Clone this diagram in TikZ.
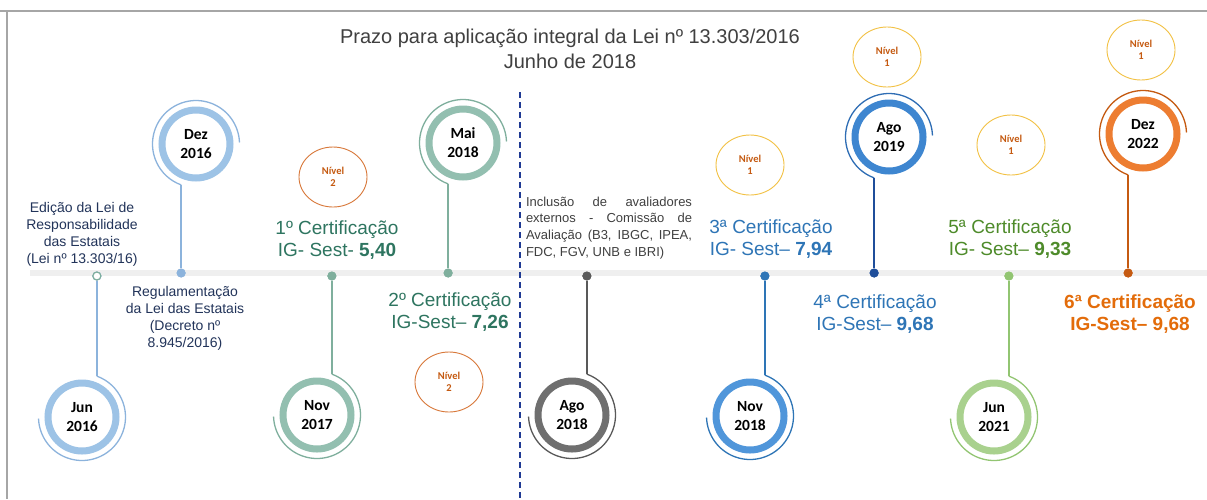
\documentclass[tikz,border=0pt]{standalone}
\usepackage{fontspec}
\setmainfont{Liberation Sans}
\newfontfamily\calfont{Carlito}
\usetikzlibrary{shapes.geometric}
\definecolor{lblue}{HTML}{9DC3E6}\definecolor{lblueL}{HTML}{8CB3DC}
\definecolor{sage}{HTML}{93BFB0}\definecolor{sageL}{HTML}{7FAF9D}
\definecolor{gring}{HTML}{6F6F6F}\definecolor{gline}{HTML}{595959}
\definecolor{mblue}{HTML}{5096DA}\definecolor{mblueL}{HTML}{2E75B6}
\definecolor{dblue}{HTML}{3E86D0}\definecolor{dblueL}{HTML}{2E6DB4}\definecolor{navyL}{HTML}{1F4E9A}
\definecolor{lgreen}{HTML}{A9D18E}\definecolor{lgreenL}{HTML}{92C572}
\definecolor{orng}{HTML}{ED7D31}\definecolor{orngL}{HTML}{C55A11}
\definecolor{tealT}{HTML}{2E7560}\definecolor{blueT}{HTML}{2E75B6}
\definecolor{greenT}{HTML}{4E8B2A}\definecolor{orangeT}{HTML}{E36C0A}
\definecolor{navyT}{HTML}{22345A}\definecolor{grayT}{HTML}{404040}
\definecolor{nivel2}{HTML}{D8783A}\definecolor{nivel1}{HTML}{F2C144}\definecolor{nivelT}{HTML}{C55A11}
\definecolor{barc}{HTML}{EFEFEF}\definecolor{dashc}{HTML}{1F3A93}\definecolor{framec}{HTML}{A6A6A6}
\tikzset{
  ring/.style={circle, line width=7pt, minimum size=68pt, inner sep=0pt, align=center,
    font=\calfont\bfseries\fontsize{15.5}{19}\selectfont},
  thinarc/.style={line width=1.3pt},
  stemline/.style={line width=1.6pt},
  bardot/.style={circle, inner sep=0pt, minimum size=9pt},
  nivel/.style={ellipse, line width=0.9pt, minimum width=68pt, minimum height=60pt, inner sep=0pt,
    align=center, text=nivelT, font=\calfont\bfseries\fontsize{10.5}{12.5}\selectfont},
  cert/.style={align=center, font=\fontsize{19}{22}\selectfont},
  desc/.style={align=center, text=navyT, font=\fontsize{14}{17}\selectfont},
}
% #1 name, #2 cx, #3 cy, #4 ring colour, #5 arc colour, #6 stem colour, #7 label
\newcommand\TopEvent[7]{%
  \node[ring, draw=#4] (#1) at (#2,-#3) {#7};
  \path (#1.center) ++(250:43.5pt) coordinate (#1s);
  \draw[thinarc, draw=#5] (#1s) arc[start angle=250, end angle=2, radius=43.5pt];
  \node[bardot, fill=#6] (#1d) at (#1s |- bartop) {};
  \draw[stemline, draw=#6] (#1d) -- (#1s);
  \node[bardot, fill=#6] at (#1d) {};}
\newcommand\BotEvent[7]{%
  \node[ring, draw=#4] (#1) at (#2,-#3) {#7};
  \path (#1.center) ++(70:43.5pt) coordinate (#1s);
  \draw[thinarc, draw=#5] (#1s) arc[start angle=70, end angle=-178, radius=43.5pt];
  \node[bardot, fill=#6] (#1d) at (#1s |- barbot) {};
  \draw[stemline, draw=#6] (#1d) -- (#1s);
  \node[bardot, fill=#6] at (#1d) {};}
\begin{document}
\begin{tikzpicture}[x=1pt,y=1pt]
\useasboundingbox (0,0) rectangle (1207,-499);
\fill[white] (0,0) rectangle (1207,-499);
% frame
\draw[framec, line width=1.5pt] (0,-11) -- (1207,-11);
\draw[framec, line width=1.5pt] (7,-11) -- (7,-499);
% bar
\coordinate (bartop) at (0,-273);
\coordinate (barbot) at (0,-276);
\draw[barc, line width=6pt] (30,-273) -- (1207,-273);
% dashed divider
\coordinate (dvA) at (520,-92);
\coordinate (dvB) at (520,-499);
\draw[dashc, line width=1.8pt, dash pattern=on 6pt off 4pt] (dvA) -- (dvB);
% title
\node[align=center, text=grayT, font=\fontsize{20}{24.5}\selectfont] (title) at (570,-49)
  {Prazo para aplicação integral da Lei nº 13.303/2016\\Junho de 2018};
% events
\BotEvent{e1}{82}{417}{lblue}{lblueL}{lblueL}{Jun\\2016}
\node[bardot, draw=sageL, fill=white, line width=1.2pt, minimum size=8pt] at (e1d) {};
\TopEvent{e2}{196}{144}{lblue}{lblueL}{lblueL}{Dez\\2016}
\BotEvent{e3}{317}{415}{sage}{sageL}{sageL}{Nov\\2017}
\TopEvent{e4}{463}{143}{sage}{sageL}{sageL}{Mai\\2018}
\BotEvent{e5}{572}{415}{gring}{gline}{gline}{Ago\\2018}
\BotEvent{e6}{750}{416}{mblue}{mblueL}{mblueL}{Nov\\2018}
\TopEvent{e7}{889}{137}{dblue}{dblueL}{navyL}{Ago\\2019}
\BotEvent{e8}{994}{417}{lgreen}{lgreenL}{lgreenL}{Jun\\2021}
\TopEvent{e9}{1143}{134}{orng}{orngL}{orngL}{Dez\\2022}
% descriptions
\node[desc] (t1) at (82,-234) {Edição da Lei de\\Responsabilidade\\das Estatais\\(Lei nº 13.303/16)};
\node[desc] (t2) at (185,-318) {Regulamentação\\da Lei das Estatais\\(Decreto nº\\8.945/2016)};
\node[text width=166pt, align=justify, text=grayT, inner sep=0pt,
  font=\fontsize{13}{16.8}\selectfont] (t5) at (609,-228)
  {\hyphenpenalty=10000 Inclusão de avaliadores\linebreak externos - Comissão de\linebreak Avaliação (B3, IBGC, IPEA,\linebreak FDC, FGV, UNB e IBRI)};
% certifications
\node[cert, text=tealT] (c1) at (337,-240) {1º Certificação\\IG- Sest- \textbf{5,40}};
\node[cert, text=tealT] (c2) at (450,-312) {2º Certificação\\IG-Sest– \textbf{7,26}};
\node[cert, text=blueT] (c3) at (771,-239) {3ª Certificação\\IG- Sest– \textbf{7,94}};
\node[cert, text=blueT] (c4) at (875,-314) {4ª Certificação\\IG-Sest– \textbf{9,68}};
\node[cert, text=greenT] (c5) at (1010,-239) {5ª Certificação\\IG- Sest– \textbf{9,33}};
\node[cert, text=orangeT, font=\bfseries\fontsize{19}{22}\selectfont] (c6) at (1130,-314) {6ª Certificação\\IG-Sest– 9,68};
% nivel ellipses
\node[nivel, draw=nivel2] (n1) at (333,-177) {Nível\\2};
\node[nivel, draw=nivel2] (n2) at (449,-382) {Nível\\2};
\node[nivel, draw=nivel1] (n3) at (750,-165) {Nível\\1};
\node[nivel, draw=nivel1] (n4) at (887,-57) {Nível\\1};
\node[nivel, draw=nivel1] (n5) at (1011,-145) {Nível\\1};
\node[nivel, draw=nivel1] (n6) at (1141,-50) {Nível\\1};
\end{tikzpicture}
\end{document}
